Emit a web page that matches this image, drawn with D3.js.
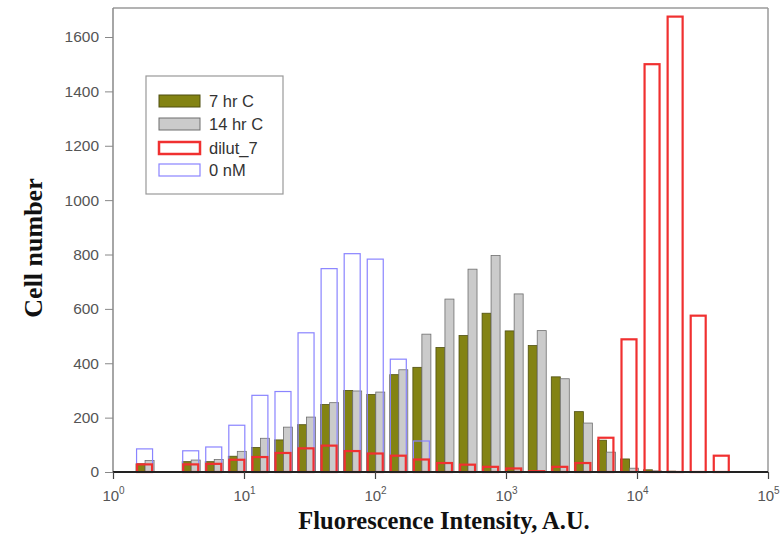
<!DOCTYPE html>
<html>
<head>
<meta charset="utf-8">
<script src="https://cdn.jsdelivr.net/npm/d3@7"></script>
<style>
  html, body { margin: 0; padding: 0; background: #fff; }
  svg { display: block; }
</style>
</head>
<body>
<svg id="chart" width="782" height="550"></svg>
<script>
// Histogram bin left edges (fluorescence, A.U.)
const bins = [1.5, 2.25, 3.375, 5.06, 7.59, 11.39, 17.09, 25.63, 38.44, 57.67, 86.5, 129.7, 194.6,
              291.9, 437.9, 656.8, 985.3, 1478, 2217, 3325, 4988, 7482, 11223, 16834, 25251, 37877];
const hr7C   = [30, 0, 38, 38, 58, 90, 118, 174, 248, 300, 285, 358, 385, 458, 502, 584, 519, 465, 350, 222, 117, 48, 8, 3, 0, 0];
const hr14C  = [42, 0, 44, 46, 76, 124, 165, 202, 255, 298, 294, 376, 507, 636, 746, 796, 655, 520, 343, 180, 73, 14, 4, 0, 0, 0];
const dilut7 = [28, 0, 28, 30, 45, 55, 70, 87, 97, 77, 68, 60, 46, 33, 27, 19, 13, 3, 19, 33, 126, 488, 1500, 1675, 575, 60];
const nM0    = [85, 0, 78, 92, 172, 282, 296, 512, 748, 803, 783, 415, 114, 0, 0, 0, 0, 0, 0, 0, 0, 0, 0, 0, 0, 0];
const yTicks = [0, 200, 400, 600, 800, 1000, 1200, 1400, 1600];
const xTicks = [1, 10, 100, 1000, 10000, 100000];
const legendLabels = ["7 hr C", "14 hr C", "dilut_7", "0 nM"];

const svg = d3.select("#chart");
const L = 113, R = 768, T = 8, B = 472;

const x = d3.scaleLog().domain([1, 100000]).range([L, R]);
const y = d3.scaleLinear().domain([0, 1600]).range([B, 37]);

const groupW = 18, halfW = 9;
const sans = "'Liberation Sans', Arial, sans-serif";
const serif = "'Liberation Serif', 'Times New Roman', serif";

// frame (top & right)
svg.append("line").attr("x1", L).attr("x2", R).attr("y1", T).attr("y2", T)
  .attr("stroke", "#9a9a9a").attr("stroke-width", 1.5);
svg.append("line").attr("x1", R).attr("x2", R).attr("y1", T).attr("y2", B)
  .attr("stroke", "#9a9a9a").attr("stroke-width", 1.5);

// Olive and gray bars
const gBars = svg.append("g");
gBars.selectAll("rect.o").data(bins.map((b, i) => ({b, v: hr7C[i]})).filter(d => d.v > 0))
  .join("rect").attr("class", "o")
  .attr("x", d => x(d.b)).attr("width", halfW)
  .attr("y", d => y(d.v)).attr("height", d => y(0) - y(d.v))
  .attr("fill", "#838313").attr("stroke", "#4f4f10").attr("stroke-width", 0.8);
gBars.selectAll("rect.g").data(bins.map((b, i) => ({b, v: hr14C[i]})).filter(d => d.v > 0))
  .join("rect").attr("class", "g")
  .attr("x", d => x(d.b) + halfW).attr("width", halfW)
  .attr("y", d => y(d.v)).attr("height", d => y(0) - y(d.v))
  .attr("fill", "#cbcbcb").attr("stroke", "#6e6e6e").attr("stroke-width", 0.8);

// Blue outline
svg.append("g").selectAll("rect").data(bins.map((b, i) => ({b, v: nM0[i]})).filter(d => d.v > 0))
  .join("rect")
  .attr("x", d => x(d.b) + 0.5).attr("width", groupW - 2)
  .attr("y", d => y(d.v)).attr("height", d => y(0) - y(d.v))
  .attr("fill", "none").attr("stroke", "#8a84ff").attr("stroke-width", 1.2);

// Red outline
svg.append("g").selectAll("rect").data(bins.map((b, i) => ({b, v: dilut7[i]})).filter(d => d.v > 0))
  .join("rect")
  .attr("x", d => x(d.b) + 1).attr("width", groupW - 3)
  .attr("y", d => y(d.v)).attr("height", d => y(0) - y(d.v))
  .attr("fill", "none").attr("stroke", "#f03030").attr("stroke-width", 2.2);

// Y axis
const yAxis = svg.append("g").attr("transform", `translate(${L},0)`)
  .call(d3.axisLeft(y).tickValues(yTicks).tickSize(8).tickPadding(6).tickFormat(d3.format("d")));
yAxis.select(".domain").attr("stroke", "#888").attr("stroke-width", 1.5).attr("d", `M0,${T}V${B}`);
yAxis.selectAll(".tick line").attr("stroke", "#888");
yAxis.selectAll(".tick text").attr("fill", "#555").style("font-family", sans).style("font-size", "15.5px");

// X axis
const xAxis = svg.append("g").attr("transform", `translate(0,${B})`)
  .call(d3.axisBottom(x).tickValues(xTicks).tickSize(7).tickFormat(""));
xAxis.select(".domain").attr("stroke", "#222").attr("stroke-width", 2.2).attr("d", `M${L},0H${R}`);
xAxis.selectAll(".tick line").attr("stroke", "#444").attr("stroke-width", 1.2);
const xl = xAxis.selectAll(".tick").append("text")
  .attr("y", 29).attr("text-anchor", "middle").attr("fill", "#555")
  .style("font-family", sans).style("font-size", "15px");
xl.append("tspan").text("10");
xl.append("tspan").attr("dy", -7).style("font-size", "10px").text(d => Math.round(Math.log10(d)));

// Axis titles
svg.append("text").attr("x", 444).attr("y", 529).attr("text-anchor", "middle")
  .style("font-family", serif).style("font-weight", "bold")
  .style("font-size", "24.5px").attr("fill", "#111").text("Fluorescence Intensity, A.U.");
svg.append("text").attr("transform", "translate(42,248) rotate(-90)").attr("text-anchor", "middle")
  .style("font-family", serif).style("font-weight", "bold")
  .style("font-size", "26px").attr("fill", "#111").text("Cell number");

// Legend
const lg = svg.append("g");
lg.append("rect").attr("x", 146).attr("y", 76).attr("width", 137).attr("height", 118)
  .attr("fill", "#fff").attr("stroke", "#999").attr("stroke-width", 1.2);
const sw = [
  {fill: "#838313", stroke: "#4f4f10", sw: 1},
  {fill: "#cbcbcb", stroke: "#6e6e6e", sw: 1},
  {fill: "none", stroke: "#f03030", sw: 2.5},
  {fill: "none", stroke: "#8a84ff", sw: 1.2}
];
const ly = [95, 118, 142, 164];
legendLabels.forEach((lab, i) => {
  lg.append("rect").attr("x", 159).attr("y", ly[i]).attr("width", 41).attr("height", 12)
    .attr("fill", sw[i].fill).attr("stroke", sw[i].stroke).attr("stroke-width", sw[i].sw);
  lg.append("text").attr("x", 209).attr("y", ly[i] + 12).attr("fill", "#333")
    .style("font-family", sans).style("font-size", "16.5px").text(lab);
});
</script>
</body>
</html>
